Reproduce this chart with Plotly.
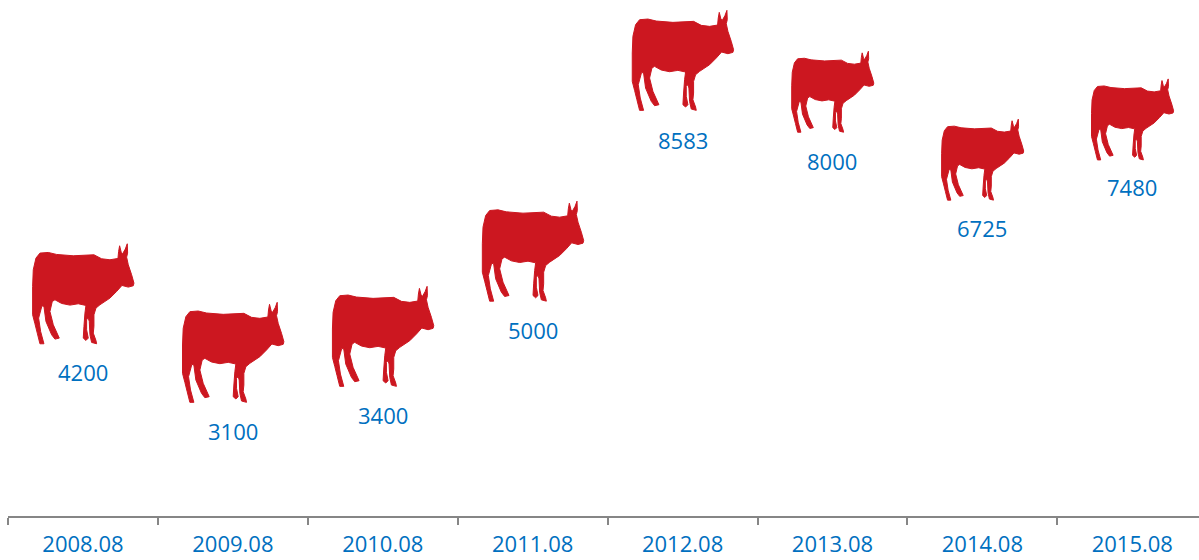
import plotly.graph_objects as go

# Data
categories = ["2008.08", "2009.08", "2010.08", "2011.08", "2012.08", "2013.08", "2014.08", "2015.08"]
values = [4200, 3100, 3400, 5000, 8583, 8000, 6725, 7480]

# Style: relative glyph size per year and label distance (px) below the glyph centre
glyph_scale = [1, 1, 1, 1, 1, 0.81, 0.81, 0.81]
label_gap = [77, 77, 77, 77, 78, 68, 67, 66]

RED = "#CC1720"
BLUE = "#0070C0"
GREY = "#868686"
FONT = "Open Sans"

# Cow silhouette outline (px, image orientation, origin offset removed below)
outline = [(48,65),(60,50),(85,48),(110,54),(160,58),(222,55),(245,67),(270,70),(294,66),
           (296,45),(299,28),(304,48),(308,52),(316,38),(322,22),(323,50),(320,62),
           (325,85),(335,115),(342,140),(340,148),(325,152),(306,147),
           (290,165),(270,185),(240,205),(228,215),(222,235),(222,270),(220,290),(228,312),(230,322),
           (215,318),(210,295),(208,255),(205,245),(200,250),(200,280),(205,305),(198,312),(190,305),
           (192,270),(195,230),(198,207),(175,202),(150,206),(125,201),(105,190),
           (97,195),(90,225),(100,265),(118,305),(105,308),(95,295),(78,255),(72,210),(66,208),
           (56,245),(62,285),(72,322),(60,322),(52,290),(45,262),(38,235),(38,150),(40,100)]


def glyph_path(scale):
    pts = [((x - 189) / 3 * scale, -(y - 177) / 3 * scale) for x, y in outline]
    return "M" + " L".join(f"{x:.2f},{y:.2f}" for x, y in pts) + " Z"


fig = go.Figure()
fig.add_trace(go.Scatter(x=categories, y=values, mode="markers",
                         marker=dict(opacity=0, size=1), hoverinfo="skip", showlegend=False))

# Category names look numeric, so shapes and annotations address the axis by category index
for i, (val, s, gap) in enumerate(zip(values, glyph_scale, label_gap)):
    fig.add_shape(type="path", xref="x", yref="y", xsizemode="pixel", ysizemode="pixel",
                  xanchor=i, yanchor=val, path=glyph_path(s),
                  fillcolor=RED, line=dict(color=RED, width=1), layer="above")
    fig.add_annotation(x=i, y=val, yshift=-gap, text=str(val), showarrow=False,
                       font=dict(family=FONT, size=22, color=BLUE))

fig.update_layout(
    width=1199, height=560, autosize=False,
    margin=dict(l=8, r=0, t=0, b=44, autoexpand=False),
    paper_bgcolor="white", plot_bgcolor="white", showlegend=False,
    xaxis=dict(type="category", categoryorder="array", categoryarray=categories,
               automargin=False,
               range=[-0.5, 7.445], tickson="boundaries", ticks="outside", ticklen=7,
               tickwidth=2, tickcolor=GREY, showline=True, linecolor=GREY, linewidth=2,
               showgrid=False, zeroline=False, ticklabelstandoff=8,
               tickfont=dict(family=FONT, size=22, color=BLUE), tickangle=0),
    yaxis=dict(range=[58, 9748], visible=False, showgrid=False, zeroline=False, automargin=False),
)

fig.write_html("out.html", config=dict(displayModeBar=False),
               post_script="document.body.style.margin='0';")
